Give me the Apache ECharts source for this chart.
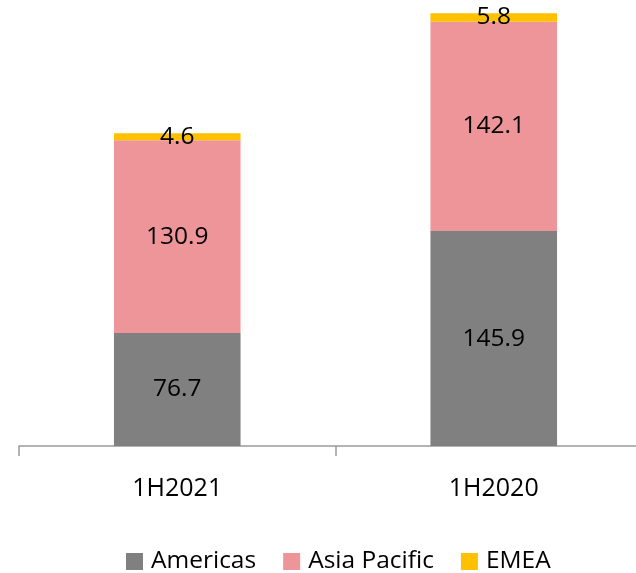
<!DOCTYPE html>
<html>
<head>
<meta charset="utf-8">
<script src="https://cdn.jsdelivr.net/npm/echarts@6/dist/echarts.min.js"></script>
<style>
  html, body { margin: 0; padding: 0; background: #fff; }
  #chart { width: 636px; height: 573px; }
</style>
</head>
<body>
<div id="chart"></div>
<script>
// Half-year revenue by region, stacked
const periods = ['1H2021', '1H2020'];
const americas = [76.7, 145.9];
const asiaPacific = [130.9, 142.1];
const emea = [4.6, 5.8];

const FONT = '"Open Sans", "Noto Sans", sans-serif';

function segment(name, data, color) {
  return {
    name: name,
    type: 'bar',
    stack: 'total',
    barWidth: '40%',
    data: data,
    itemStyle: { color: color },
    label: {
      show: true,
      position: 'inside',
      color: '#000',
      fontSize: 24.5,
      fontFamily: FONT,
      formatter: p => p.value.toFixed(1)
    }
  };
}

const chart = echarts.init(document.getElementById('chart'), null, { renderer: 'canvas' });
chart.setOption({
  animation: false,
  backgroundColor: '#fff',
  // the plot runs past the right edge so the second category is cut off there
  grid: { left: 19, width: 633, top: 4, height: 442, containLabel: false, outerBoundsMode: 'none' },
  xAxis: {
    type: 'category',
    data: periods,
    axisLine: { show: true, lineStyle: { color: '#9a9a9a', width: 1.5 } },
    axisTick: { show: true, length: 10, lineStyle: { color: '#9a9a9a', width: 1.5 } },
    axisLabel: { color: '#000', fontSize: 25, fontFamily: FONT, margin: 30 }
  },
  yAxis: {
    type: 'value',
    min: 0,
    max: 300,
    show: false,
    splitLine: { show: false }
  },
  legend: {
    left: 121,
    top: 544,
    itemWidth: 17,
    itemHeight: 17,
    itemGap: 27,
    icon: 'rect',
    textStyle: { color: '#000', fontSize: 24.5, fontFamily: FONT, padding: [0, 0, 0, 3] },
    data: ['Americas', 'Asia Pacific', 'EMEA']
  },
  series: [
    segment('Americas', americas, '#808080'),
    segment('Asia Pacific', asiaPacific, '#ED9598'),
    segment('EMEA', emea, '#FFC000')
  ]
});
</script>
</body>
</html>
